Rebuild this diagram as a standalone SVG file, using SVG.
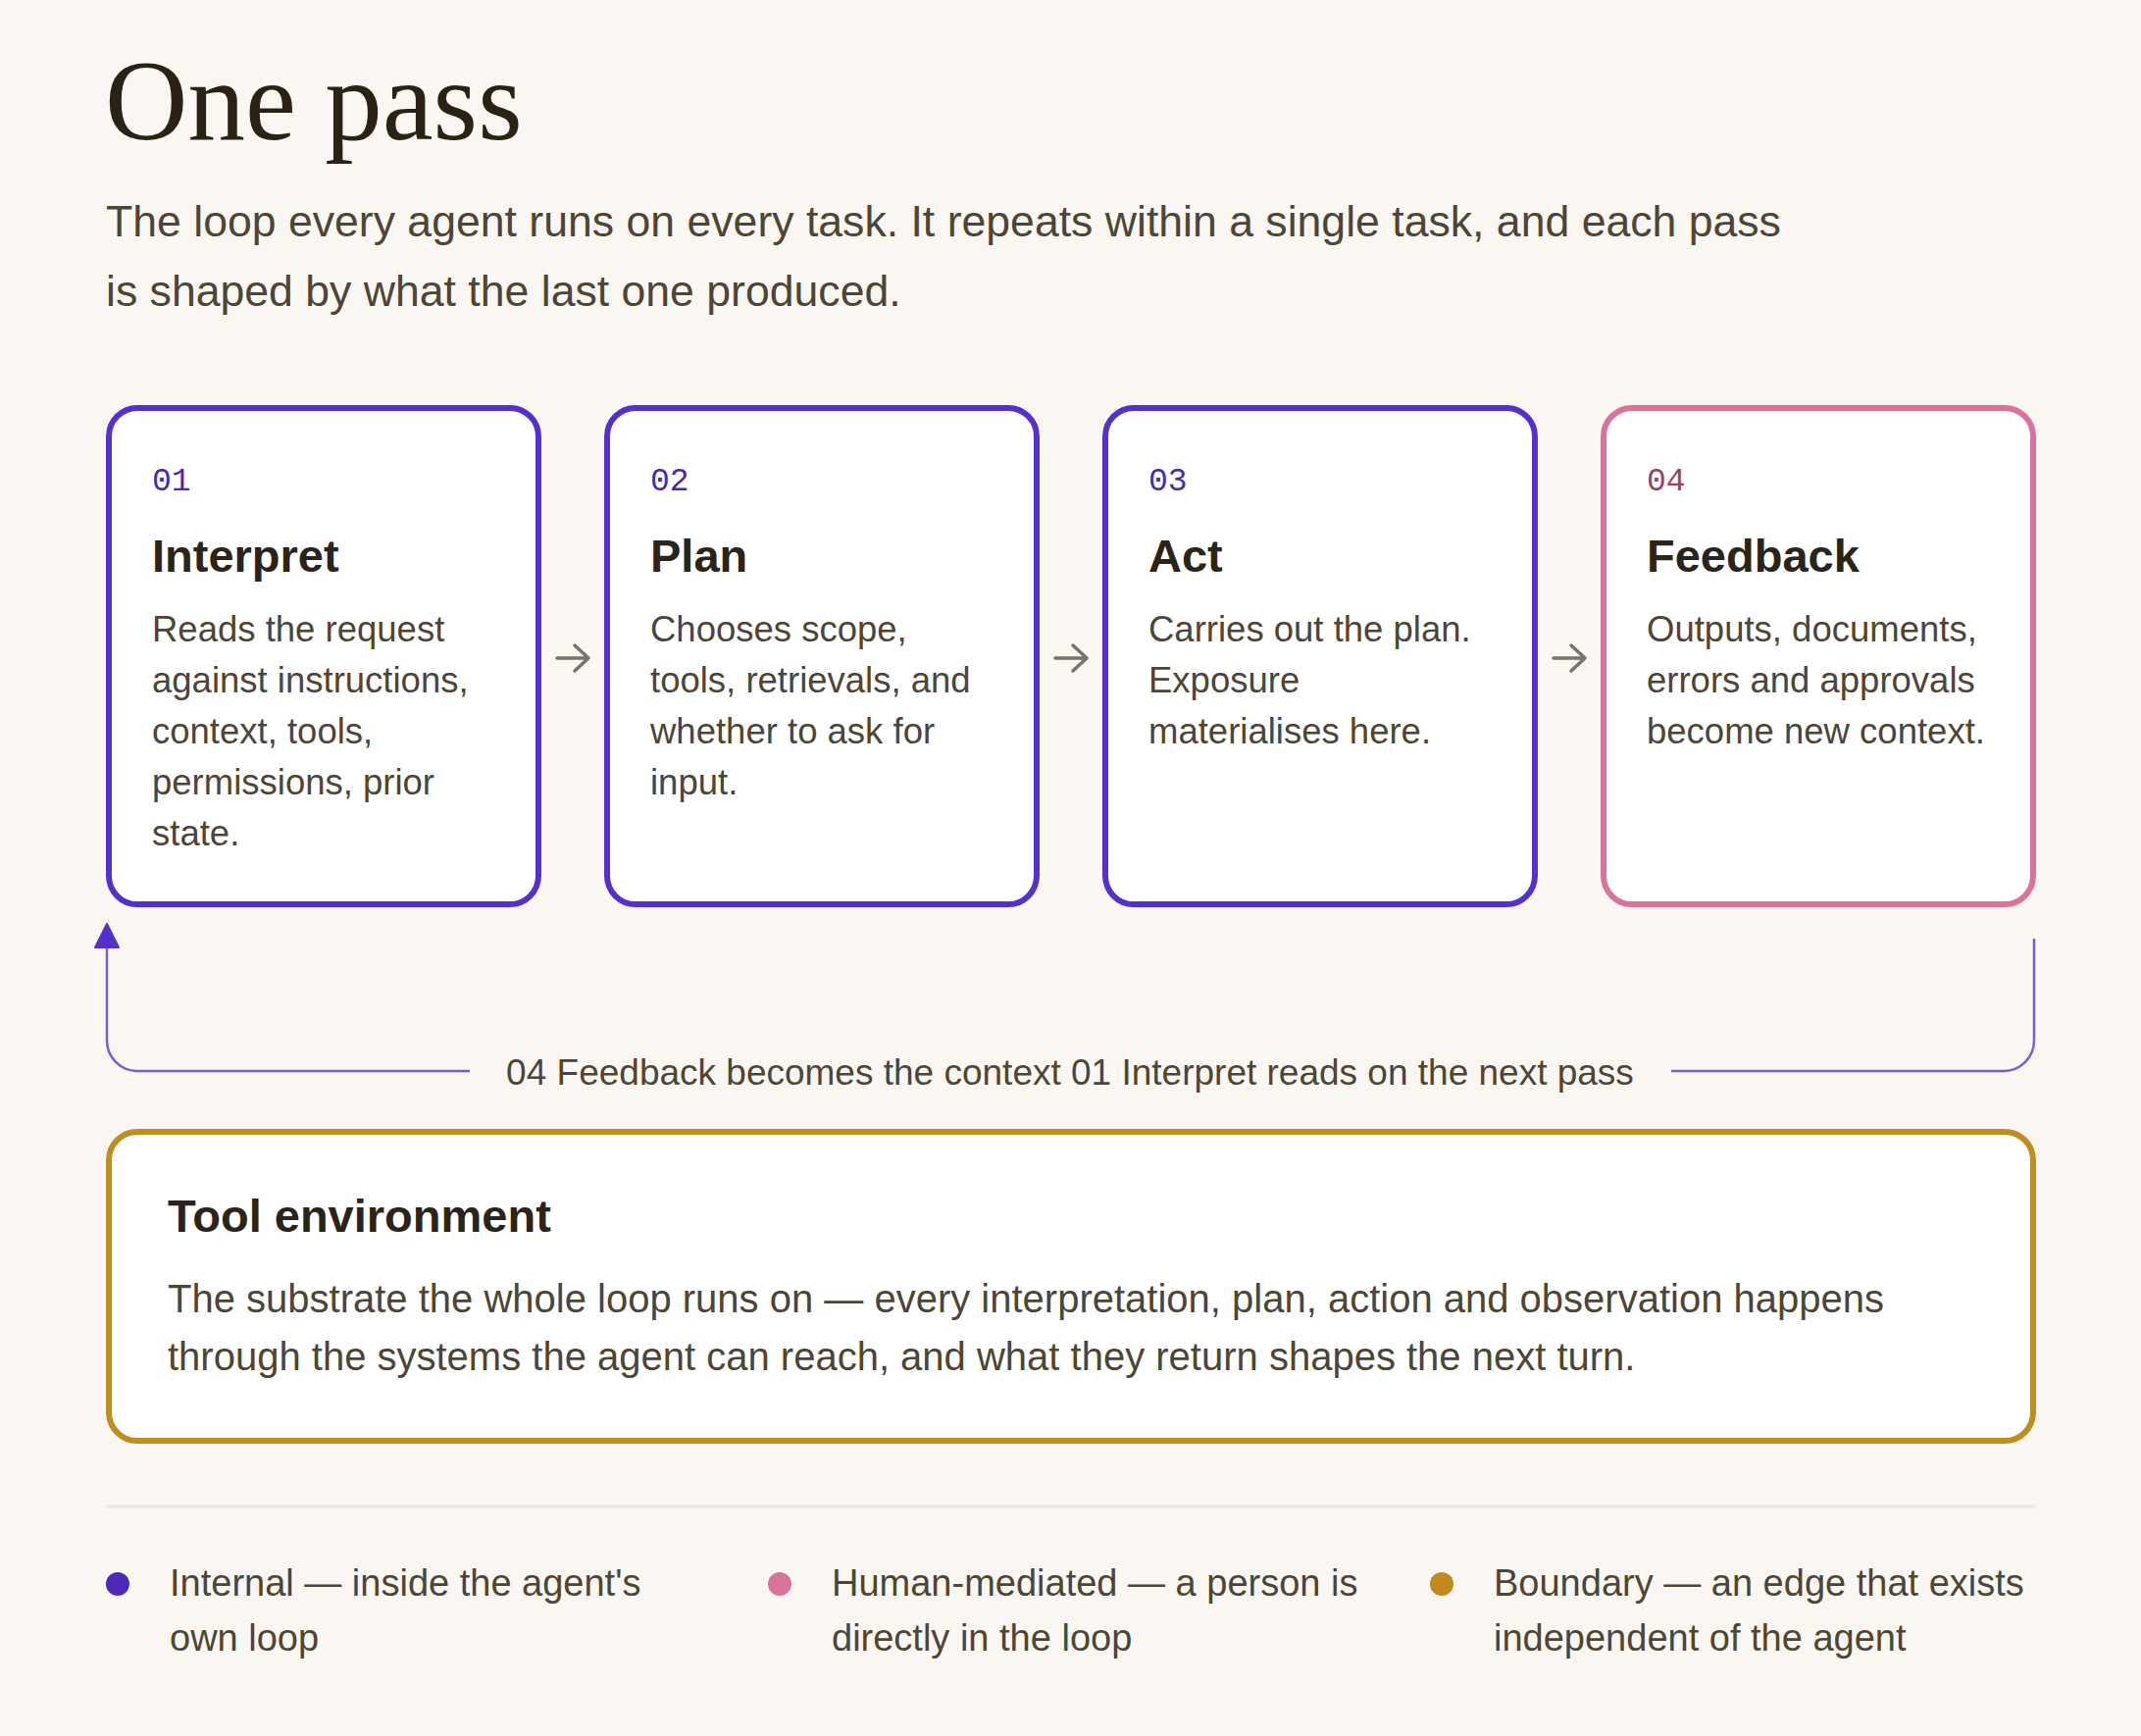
<svg xmlns="http://www.w3.org/2000/svg" width="2183" height="1770" viewBox="0 0 2183 1770">
<style>
.bg{fill:#faf7f2}
.card{fill:#ffffff;stroke-width:6}
.internal{stroke:#5631c9}
.human{stroke:#d9739c}
.boundary{stroke:#bf8e20}
.num{font-family:"Liberation Mono","DejaVu Sans Mono",monospace;font-size:33px}
.num-i{fill:#4a2ab0}
.num-h{fill:#9b3f68}
.title{font-family:"Liberation Sans",Arial,sans-serif;font-weight:bold;font-size:47px;fill:#2b2418}
.body{font-family:"Liberation Sans",Arial,sans-serif;font-size:36.5px;fill:#4d4535}
.step{fill:none;stroke:#7a7264;stroke-width:3.5;stroke-linecap:round;stroke-linejoin:round}
.loop{fill:none;stroke:#7a5cd6;stroke-width:2.5}
.label{font-family:"Liberation Sans",Arial,sans-serif;font-size:37px;fill:#4d4535}
.legend{font-family:"Liberation Sans",Arial,sans-serif;font-size:38px;fill:#4d4535}
</style>
<rect class="bg" x="0" y="0" width="2183" height="1770"/>

<g id="header">
<text x="107" y="142" font-family="'Liberation Serif','DejaVu Serif',serif" font-size="117" fill="#2a2214">One pass</text>
<text x="108" y="241" font-family="'Liberation Sans',Arial,sans-serif" font-size="44.6" fill="#4d4535">The loop every agent runs on every task. It repeats within a single task, and each pass</text>
<text x="108" y="312" font-family="'Liberation Sans',Arial,sans-serif" font-size="44.6" fill="#4d4535">is shaped by what the last one produced.</text>
</g>

<g id="node-interpret">
<rect class="card internal" x="111" y="416" width="438" height="506" rx="29"/>
<text class="num num-i" x="155" y="500">01</text>
<text class="title" x="155" y="583">Interpret</text>
<text class="body" x="155" y="654">Reads the request</text>
<text class="body" x="155" y="706">against instructions,</text>
<text class="body" x="155" y="758">context, tools,</text>
<text class="body" x="155" y="810">permissions, prior</text>
<text class="body" x="155" y="862">state.</text>
</g>

<g id="node-plan">
<rect class="card internal" x="619" y="416" width="438" height="506" rx="29"/>
<text class="num num-i" x="663" y="500">02</text>
<text class="title" x="663" y="583">Plan</text>
<text class="body" x="663" y="654">Chooses scope,</text>
<text class="body" x="663" y="706">tools, retrievals, and</text>
<text class="body" x="663" y="758">whether to ask for</text>
<text class="body" x="663" y="810">input.</text>
</g>

<g id="node-act">
<rect class="card internal" x="1127" y="416" width="438" height="506" rx="29"/>
<text class="num num-i" x="1171" y="500">03</text>
<text class="title" x="1171" y="583">Act</text>
<text class="body" x="1171" y="654">Carries out the plan.</text>
<text class="body" x="1171" y="706">Exposure</text>
<text class="body" x="1171" y="758">materialises here.</text>
</g>

<g id="node-feedback">
<rect class="card human" x="1635" y="416" width="438" height="506" rx="29"/>
<text class="num num-h" x="1679" y="500">04</text>
<text class="title" x="1679" y="583">Feedback</text>
<text class="body" x="1679" y="654">Outputs, documents,</text>
<text class="body" x="1679" y="706">errors and approvals</text>
<text class="body" x="1679" y="758">become new context.</text>
</g>

<g id="connectors">
<path class="step" d="M568,671 H600 M586,658 L600,671 L586,684"/>
<path class="step" d="M1076,671 H1108 M1094,658 L1108,671 L1094,684"/>
<path class="step" d="M1584,671 H1616 M1602,658 L1616,671 L1602,684"/>
<path class="loop" d="M2074,957 V1061 A31,31 0 0 1 2043,1092 H1704"/>
<path class="loop" d="M479,1092 H140 A31,31 0 0 1 109,1061 V962"/>
<path d="M109,942 L121,966 L97,966 Z" fill="#5530c8" stroke="#5530c8" stroke-width="2" stroke-linejoin="round"/>
<text class="label" x="1091" y="1106" text-anchor="middle">04 Feedback becomes the context 01 Interpret reads on the next pass</text>
</g>

<g id="node-tool-environment">
<rect class="card boundary" x="111" y="1154" width="1962" height="315" rx="29"/>
<text class="title" x="171" y="1256" font-size="45.5">Tool environment</text>
<text x="171" y="1338" font-family="'Liberation Sans',Arial,sans-serif" font-size="40" fill="#4d4535">The substrate the whole loop runs on — every interpretation, plan, action and observation happens</text>
<text x="171" y="1397" font-family="'Liberation Sans',Arial,sans-serif" font-size="40" fill="#4d4535">through the systems the agent can reach, and what they return shapes the next turn.</text>
</g>

<g id="legend">
<line x1="108" y1="1536" x2="2075" y2="1536" stroke="#ebe6df" stroke-width="3"/>
<g id="legend-internal">
<circle cx="120" cy="1615" r="12" fill="#4f28b8"/>
<text class="legend" x="173" y="1627">Internal — inside the agent's</text>
<text class="legend" x="173" y="1683">own loop</text>
</g>
<g id="legend-human">
<circle cx="795" cy="1615" r="12" fill="#d9739c"/>
<text class="legend" x="848" y="1627">Human-mediated — a person is</text>
<text class="legend" x="848" y="1683">directly in the loop</text>
</g>
<g id="legend-boundary">
<circle cx="1470" cy="1615" r="12" fill="#c08a1e"/>
<text class="legend" x="1523" y="1627">Boundary — an edge that exists</text>
<text class="legend" x="1523" y="1683">independent of the agent</text>
</g>
</g>
</svg>
